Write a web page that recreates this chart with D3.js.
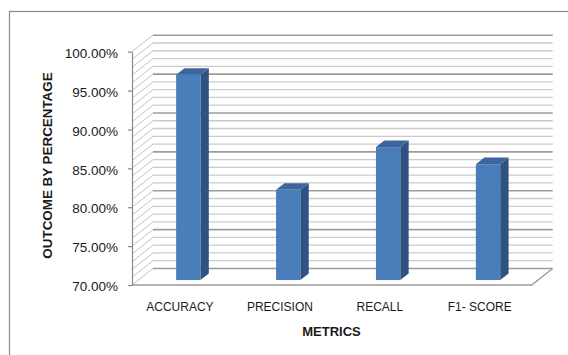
<!DOCTYPE html>
<html>
<head>
<meta charset="utf-8">
<script src="https://cdn.jsdelivr.net/npm/d3@7"></script>
<style>
  html, body { margin: 0; padding: 0; background: #fff; }
  svg { display: block; }
  text { font-family: "Liberation Sans", Arial, sans-serif; fill: #1a1a1a; }
</style>
</head>
<body>
<svg id="chart" width="568" height="355"></svg>
<script>
// ---- data ----
const categories = ["ACCURACY", "PRECISION", "RECALL", "F1- SCORE"];
const values = [96.4, 81.6, 87.1, 84.9];
const yTicks = [70, 75, 80, 85, 90, 95, 100];
const yMinorTicks = d3.range(70, 101, 1);
const xTitle = "METRICS";
const yTitle = "OUTCOME BY PERCENTAGE";

// ---- layout ----
const svg = d3.select("#chart");
const DX = 21, DY = -16.5;      // depth vector of the 3D floor
const x = d3.scaleBand().domain(categories).range([132, 531.7]);
const y = d3.scaleLinear().domain([70, 100]).range([285, 51.7]);
const barW = 24.3, f0 = 0.3, bd = 0.4;

// chart border (extends beyond view on right/bottom)
svg.append("rect").attr("x", 9.5).attr("y", 11.5).attr("width", 600).attr("height", 400)
  .attr("fill", "none").attr("stroke", "#8a8a8a").attr("stroke-width", 1.2);

const x0 = x.range()[0], x1 = x.range()[1];

// gridlines: back wall + side wall
const grid = svg.append("g");
yMinorTicks.forEach(v => {
  const major = v % 5 === 0;
  const col = major ? "#9c9c9c" : "#cbcbcb";
  const w = major ? 1.6 : 1.3;
  grid.append("line")
    .attr("x1", x0 + DX).attr("x2", x1 + DX)
    .attr("y1", y(v) + DY).attr("y2", y(v) + DY)
    .attr("stroke", col).attr("stroke-width", w);
  grid.append("line")
    .attr("x1", x0).attr("x2", x0 + DX)
    .attr("y1", y(v)).attr("y2", y(v) + DY)
    .attr("stroke", "#c4c4c4").attr("stroke-width", 1);
});

// floor edges
svg.append("path")
  .attr("d", `M${x0},${y(70)}L${x1},${y(70)}L${x1 + DX},${y(70) + DY}`)
  .attr("fill", "none").attr("stroke", "#9a9a9a").attr("stroke-width", 1.4);

// y axis
const yAxis = svg.append("g").attr("transform", `translate(${x0},0)`)
  .call(d3.axisLeft(y).tickValues(yTicks).tickSize(4).tickSizeOuter(0)
    .tickFormat(d => d.toFixed(2) + "%"));
yAxis.select(".domain").attr("stroke", "#8a8a8a").attr("stroke-width", 1.2);
yAxis.selectAll(".tick line").attr("stroke", "#8a8a8a").attr("stroke-width", 1.2);
yAxis.selectAll(".tick text")
  .attr("x", -14).attr("dy", "0.42em")
  .style("font-family", "'Liberation Sans', Arial, sans-serif")
  .style("font-size", "13.5px").style("fill", "#1a1a1a");

// bars
const bars = svg.append("g");
categories.forEach((c, i) => {
  const cx = x(c) + x.bandwidth() / 2 + f0 * DX;
  const L = cx - barW / 2, R = cx + barW / 2;
  const T = y(values[i]) + f0 * DY, B = y(70) + f0 * DY;
  const ox = bd * DX, oy = bd * DY;
  bars.append("path")
    .attr("d", `M${R},${T}L${R + ox},${T + oy}L${R + ox},${B + oy}L${R},${B}Z`)
    .attr("fill", "#2f5282");
  bars.append("path")
    .attr("d", `M${L},${T}L${L + ox},${T + oy}L${R + ox},${T + oy}L${R},${T}Z`)
    .attr("fill", "#3b659c");
  bars.append("rect").attr("x", L).attr("y", T).attr("width", barW).attr("height", B - T)
    .attr("fill", "#4a7ebb");
});

// category labels
svg.append("g").selectAll("text").data(categories).join("text")
  .attr("x", d => x(d) + x.bandwidth() / 2 - 2)
  .attr("y", 311)
  .attr("text-anchor", "middle")
  .style("font-size", "12px")
  .text(d => d);

// axis titles
svg.append("text").attr("x", 331.5).attr("y", 335.5).attr("text-anchor", "middle")
  .style("font-size", "13px").style("font-weight", "bold").text(xTitle);
svg.append("text").attr("transform", "translate(51.5,165.5) rotate(-90)")
  .attr("text-anchor", "middle")
  .style("font-size", "13.4px").style("font-weight", "bold").text(yTitle);
</script>
</body>
</html>
